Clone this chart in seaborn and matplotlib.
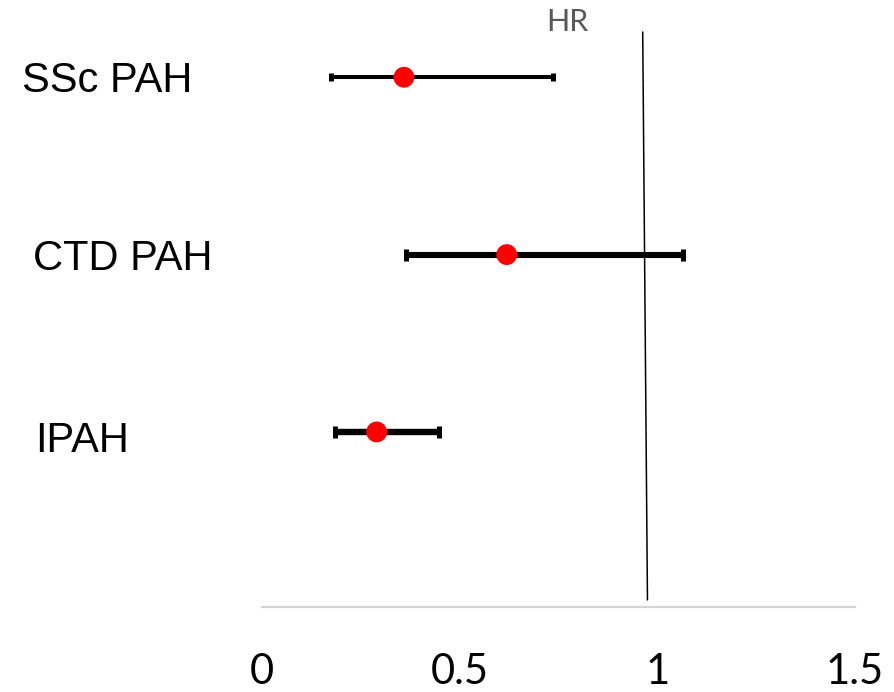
import matplotlib
matplotlib.use("Agg")
import matplotlib.pyplot as plt
import seaborn as sns
import pandas as pd

# ---- data ----
categories = ["SSc PAH", "CTD PAH", "IPAH"]
hr = [0.359, 0.619, 0.290]
ci_low = [0.175, 0.364, 0.185]
ci_high = [0.736, 1.065, 0.448]
ref_line_x = [0.963, 0.975]   # reference line (drawn slightly slanted in original)
xticks = [0, 0.5, 1, 1.5]
xtick_labels = ["0", "0.5", "1", "1.5"]

df = pd.DataFrame({"cat": categories, "hr": hr, "lo": ci_low, "hi": ci_high})
df["y"] = range(len(df))

sns.set_theme(style="white")
plt.rcParams["font.family"] = ["Liberation Sans", "DejaVu Sans"]

fig = plt.figure(figsize=(8.95, 6.92), dpi=100)
ax = fig.add_axes([262 / 895, 1 - 607 / 692, (855 - 262) / 895, (607 - 32) / 692])

# error bars
bar_lw = [2.9, 4.4, 4.6]
cap_sz = [2.8, 4.3, 4.3]
for i, row in df.iterrows():
    ax.errorbar(row["hr"], row["y"],
                xerr=[[row["hr"] - row["lo"]], [row["hi"] - row["hr"]]],
                fmt="none", ecolor="black", elinewidth=bar_lw[i],
                capsize=cap_sz[i], capthick=3.6, zorder=2)

# points
sns.scatterplot(data=df, x="hr", y="y", color="#ff0000", s=15 ** 2,
                edgecolor="none", zorder=3, ax=ax, legend=False)

# reference line
ax.plot(ref_line_x, [-0.255, 2.947], color="black", lw=1.1, clip_on=False, zorder=1)

ax.set_xlim(0, 1.5)
ax.set_ylim(2.987, -0.255)
ax.set_xlabel("")
ax.set_ylabel("")
ax.set_yticks([])
ax.set_xticks(xticks)
ax.set_xticklabels(xtick_labels, fontfamily="Lato", fontsize=30, color="black")
ax.tick_params(axis="x", length=0, pad=33)

for s in ["top", "left", "right"]:
    ax.spines[s].set_visible(False)
ax.spines["bottom"].set_color("#d4d4d4")
ax.spines["bottom"].set_linewidth(1.6)

# category labels
label_x = [22, 33, 35]
label_dy = [0.02, 0.025, 0.05]
for i, c in enumerate(categories):
    ax.text(label_x[i] / 895, i + label_dy[i], c,
            transform=matplotlib.transforms.blended_transform_factory(fig.transFigure, ax.transData),
            ha="left", va="center", fontsize=30, color="black")

# HR title
fig.text(567 / 895, 1 - 22 / 692, "HR", ha="center", va="center",
         fontfamily="Lato", fontsize=22, color="#595959")

fig.savefig("out.png", dpi=100)
